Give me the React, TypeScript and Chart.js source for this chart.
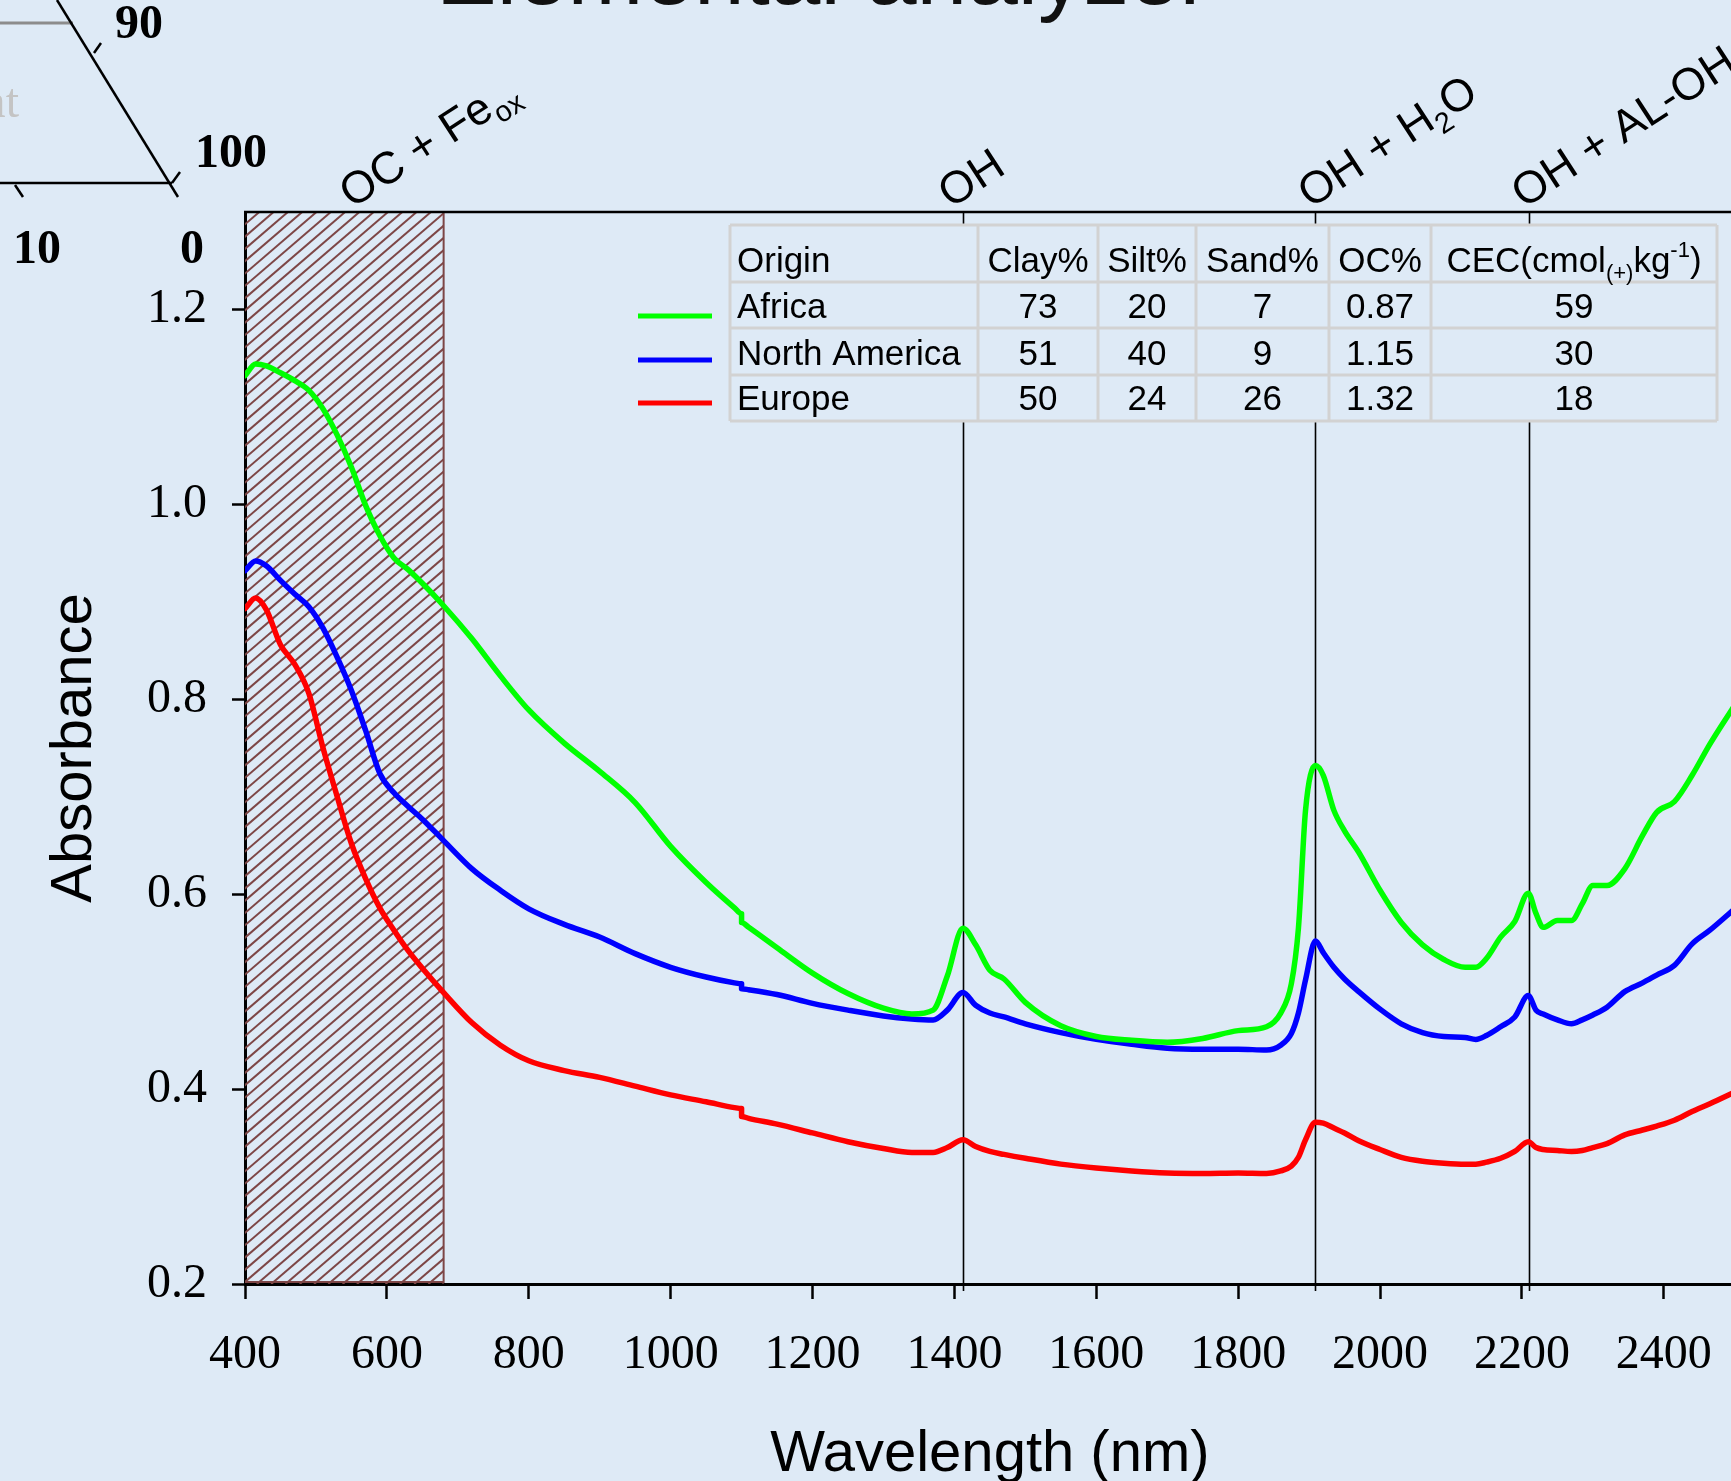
import React, { useEffect, useRef } from 'react';
import { Chart, registerables } from 'chart.js';

Chart.register(...registerables);

// ---------- data ----------
const WAVELENGTHS = [
  400, 415, 430, 450, 470, 490, 510, 530, 550, 570, 590, 610, 630, 650, 680, 720, 760, 800, 850, 900,
  950, 1000, 1050, 1090, 1100, 1100, 1110, 1150, 1200, 1250, 1300, 1340, 1370, 1390, 1412, 1430, 1450, 1470, 1500,
  1550, 1600, 1650, 1700, 1750, 1800, 1840, 1860, 1875, 1885, 1895, 1909, 1920, 1935, 1950, 1970, 2000,
  2030, 2060, 2090, 2120, 2135, 2150, 2170, 2190, 2209, 2220, 2230, 2250, 2270, 2285, 2300, 2320, 2345,
  2370, 2390, 2415, 2440, 2465, 2500,
];

const AFRICA = [
  1.132, 1.144, 1.142, 1.135, 1.127, 1.117, 1.098, 1.071, 1.038, 0.999, 0.968, 0.945, 0.933, 0.919, 0.896,
  0.862, 0.824, 0.789, 0.755, 0.726, 0.694, 0.649, 0.612, 0.586, 0.58, 0.571, 0.566, 0.545, 0.519, 0.498, 0.483, 0.477,
  0.481, 0.516, 0.565, 0.548, 0.522, 0.513, 0.489, 0.465, 0.454, 0.45, 0.448, 0.452, 0.46, 0.464, 0.478,
  0.508, 0.565, 0.686, 0.732, 0.722, 0.686, 0.665, 0.643, 0.604, 0.571, 0.548, 0.533, 0.525, 0.525, 0.534,
  0.556, 0.572, 0.601, 0.58, 0.566, 0.573, 0.573, 0.59, 0.609, 0.609, 0.626, 0.66, 0.684, 0.695, 0.722,
  0.754, 0.794,
];

const NORTH_AMERICA = [
  0.932, 0.942, 0.937, 0.922, 0.908, 0.895, 0.873, 0.843, 0.809, 0.768, 0.724, 0.704, 0.69, 0.677, 0.655,
  0.626, 0.604, 0.585, 0.569, 0.556, 0.539, 0.525, 0.515, 0.509, 0.508, 0.503, 0.502, 0.497, 0.488, 0.481, 0.475, 0.472,
  0.471, 0.481, 0.499, 0.486, 0.478, 0.474, 0.467, 0.458, 0.451, 0.446, 0.442, 0.441, 0.441, 0.44, 0.445,
  0.457, 0.478, 0.512, 0.552, 0.54, 0.525, 0.513, 0.5, 0.482, 0.467, 0.458, 0.454, 0.453, 0.451, 0.455,
  0.464, 0.474, 0.496, 0.481, 0.477, 0.471, 0.467, 0.471, 0.476, 0.484, 0.5, 0.509, 0.517, 0.527, 0.549,
  0.563, 0.585,
];

const EUROPE = [
  0.893, 0.904, 0.892, 0.856, 0.836, 0.806, 0.75, 0.7, 0.652, 0.616, 0.586, 0.563, 0.542, 0.524, 0.499,
  0.468, 0.445, 0.429, 0.419, 0.412, 0.403, 0.394, 0.387, 0.381, 0.38, 0.372, 0.37, 0.364, 0.355, 0.346, 0.339, 0.335,
  0.335, 0.34, 0.348, 0.341, 0.336, 0.333, 0.329, 0.323, 0.319, 0.316, 0.314, 0.3135, 0.314, 0.3135, 0.316,
  0.321, 0.33, 0.348, 0.366, 0.365, 0.36, 0.355, 0.347, 0.338, 0.33, 0.326, 0.324, 0.323, 0.323, 0.325,
  0.329, 0.336, 0.346, 0.34, 0.338, 0.337, 0.336, 0.337, 0.34, 0.344, 0.353, 0.358, 0.362, 0.368, 0.377,
  0.385, 0.397,
];

const X_TICKS = [400, 600, 800, 1000, 1200, 1400, 1600, 1800, 2000, 2200, 2400];
const Y_TICKS = [0.2, 0.4, 0.6, 0.8, 1.0, 1.2];
const BAND_LINES = [1412, 1908, 2210];
const HATCH_RANGE = [400, 680];

const ORIGINS = ['Africa', 'North America', 'Europe'];
const CLAY = ['73', '51', '50'];
const SILT = ['20', '40', '24'];
const SAND = ['7', '9', '26'];
const OC = ['0.87', '1.15', '1.32'];
const CEC = ['59', '30', '18'];
const SERIES_COLORS = ['#00ff00', '#0000ff', '#ff0000'];

// ---------- styles ----------
const BG = '#DEEAF6';
const HATCH = '#7d4646';
const SANS = '"Liberation Sans", Arial, sans-serif';
const SERIF = '"Liberation Serif", "Times New Roman", serif';

type Part = [string, number]; // 0 normal, 1 subscript, 2 superscript

function drawParts(ctx: CanvasRenderingContext2D, parts: Part[], x: number, y: number, size: number, small: number, align: 'left' | 'center') {
  const fontFor = (k: number) => `${k === 0 ? size : small}px ${SANS}`;
  let total = 0;
  parts.forEach(([t, k]) => { ctx.font = fontFor(k); total += ctx.measureText(t).width; });
  let cx = align === 'center' ? x - total / 2 : x;
  ctx.textAlign = 'left';
  parts.forEach(([t, k]) => {
    ctx.font = fontFor(k);
    const dy = k === 1 ? size * 0.22 : k === 2 ? -size * 0.42 : 0;
    ctx.fillText(t, cx, y + dy);
    cx += ctx.measureText(t).width;
  });
}

const decorPlugin = {
  id: 'decor',
  beforeDraw(chart: any) {
    const { ctx, width, height } = chart;
    ctx.save();
    ctx.fillStyle = BG;
    ctx.fillRect(0, 0, width, height);
    ctx.restore();
  },
  beforeDatasetsDraw(chart: any) {
    const { ctx, chartArea } = chart;
    const xs = chart.scales.x;
    const top = chartArea.top;
    const bot = chartArea.bottom;
    const H = bot - top;
    const hx0 = xs.getPixelForValue(HATCH_RANGE[0]);
    const hx1 = xs.getPixelForValue(HATCH_RANGE[1]);
    ctx.save();
    ctx.beginPath();
    ctx.rect(hx0, top, hx1 - hx0, H);
    ctx.clip();
    ctx.strokeStyle = HATCH;
    ctx.lineWidth = 2;
    const run = H / 0.86;
    for (let x = hx0 - run; x < hx1 + 5; x += 14.3) {
      ctx.beginPath();
      ctx.moveTo(x, bot);
      ctx.lineTo(x + run, top);
      ctx.stroke();
    }
    ctx.restore();
    ctx.save();
    ctx.strokeStyle = HATCH;
    ctx.lineWidth = 2;
    ctx.beginPath();
    ctx.moveTo(hx0, bot - 2);
    ctx.lineTo(hx1, bot - 2);
    ctx.lineTo(hx1, top);
    ctx.stroke();
    ctx.restore();
    // band lines
    ctx.save();
    ctx.strokeStyle = '#000';
    ctx.lineWidth = 1.6;
    BAND_LINES.forEach((w) => {
      const x = Math.round(xs.getPixelForValue(w)) + 0.5;
      ctx.beginPath();
      ctx.moveTo(x, top);
      ctx.lineTo(x, bot + 7);
      ctx.stroke();
    });
    ctx.restore();
  },
  afterDraw(chart: any) {
    const { ctx, chartArea, width } = chart;
    const xs = chart.scales.x;
    ctx.save();
    // top border
    ctx.strokeStyle = '#000';
    ctx.lineWidth = 2.5;
    ctx.beginPath();
    ctx.moveTo(chartArea.left - 1, chartArea.top);
    ctx.lineTo(width, chartArea.top);
    ctx.stroke();

    // table
    const cols = [730, 978, 1098, 1196, 1329, 1431, 1717];
    const rows = [225, 282, 328, 375, 421];
    ctx.fillStyle = BG;
    ctx.fillRect(cols[0], rows[0], cols[6] - cols[0], rows[4] - rows[0]);
    ctx.strokeStyle = '#d2d2d2';
    ctx.lineWidth = 3;
    rows.forEach((y) => { ctx.beginPath(); ctx.moveTo(cols[0], y); ctx.lineTo(cols[6], y); ctx.stroke(); });
    cols.forEach((x) => { ctx.beginPath(); ctx.moveTo(x, rows[0]); ctx.lineTo(x, rows[4]); ctx.stroke(); });
    const baselines = [272, 318, 365, 410];
    const center = (i: number) => (cols[i] + cols[i + 1]) / 2;
    ctx.fillStyle = '#000';
    ctx.textBaseline = 'alphabetic';
    ctx.font = `35px ${SANS}`;
    ctx.textAlign = 'left';
    ctx.fillText('Origin', 737, baselines[0]);
    ctx.textAlign = 'center';
    ['Clay%', 'Silt%', 'Sand%', 'OC%'].forEach((h, i) => ctx.fillText(h, center(i + 1), baselines[0]));
    drawParts(ctx, [['CEC(cmol', 0], ['(+)', 1], ['kg', 0], ['-1', 2], [')', 0]], center(5), baselines[0], 35, 22, 'center');
    ORIGINS.forEach((o, r) => {
      const y = baselines[r + 1];
      ctx.font = `35px ${SANS}`;
      ctx.textAlign = 'left';
      ctx.fillText(o, 737, y);
      ctx.textAlign = 'center';
      [CLAY[r], SILT[r], SAND[r], OC[r], CEC[r]].forEach((v, i) => ctx.fillText(v, center(i + 1), y));
    });
    // legend swatches
    ctx.lineWidth = 5;
    [316, 360, 403].forEach((y, i) => {
      ctx.strokeStyle = SERIES_COLORS[i];
      ctx.beginPath();
      ctx.moveTo(638, y);
      ctx.lineTo(712, y);
      ctx.stroke();
    });

    // rotated band annotations
    const annos: { wl: number; parts: Part[] }[] = [
      { wl: 551, parts: [['OC + Fe', 0], ['ox', 1]] },
      { wl: 1395, parts: [['OH', 0]] },
      { wl: 1902, parts: [['OH + H', 0], ['2', 1], ['O', 0]] },
      { wl: 2203, parts: [['OH + AL-OH', 0]] },
    ];
    ctx.fillStyle = '#000';
    annos.forEach((a) => {
      ctx.save();
      ctx.translate(xs.getPixelForValue(a.wl), chartArea.top - 3);
      ctx.rotate((-33 * Math.PI) / 180);
      drawParts(ctx, a.parts, 0, 0, 45, 29, 'left');
      ctx.restore();
    });

    // title (cut off at top)
    ctx.fillStyle = '#111';
    ctx.textAlign = 'left';
    ctx.font = `91px ${SANS}`;
    ctx.fillText('Elemental analyzer', 436, 4);

    // ternary diagram fragment
    ctx.strokeStyle = '#8c8c8c';
    ctx.lineWidth = 3;
    ctx.beginPath(); ctx.moveTo(0, 23); ctx.lineTo(73, 23); ctx.stroke();
    ctx.strokeStyle = '#000';
    ctx.lineWidth = 2.5;
    ctx.beginPath(); ctx.moveTo(57, 0); ctx.lineTo(178, 197); ctx.stroke();
    ctx.beginPath(); ctx.moveTo(0, 183); ctx.lineTo(172, 183); ctx.stroke();
    ctx.beginPath(); ctx.moveTo(94, 53); ctx.lineTo(101, 43); ctx.stroke();
    ctx.beginPath(); ctx.moveTo(172, 183); ctx.lineTo(180, 172); ctx.stroke();
    ctx.beginPath(); ctx.moveTo(15, 185); ctx.lineTo(23, 197); ctx.stroke();
    ctx.font = `bold 48px ${SERIF}`;
    ctx.fillStyle = '#000';
    ctx.textAlign = 'left';
    ctx.fillText('90', 115, 38);
    ctx.fillText('100', 195, 167);
    ctx.fillText('10', 13, 263);
    ctx.fillText('0', 180, 263);
    ctx.font = `48px ${SERIF}`;
    ctx.fillStyle = '#c4c4c4';
    ctx.textAlign = 'right';
    ctx.fillText('at', 19, 117);
    ctx.restore();
  },
};

export default function App() {
  const ref = useRef<HTMLCanvasElement | null>(null);
  useEffect(() => {
    if (!ref.current) return;
    const mk = (vals: number[]) => WAVELENGTHS.map((x, i) => ({ x, y: vals[i] }));
    const names = ['Africa', 'North America', 'Europe'];
    const chart = new Chart(ref.current, {
      type: 'line',
      data: {
        datasets: [AFRICA, NORTH_AMERICA, EUROPE].map((vals, i) => ({
          label: names[i],
          data: mk(vals),
          borderColor: SERIES_COLORS[i],
          backgroundColor: SERIES_COLORS[i],
          borderWidth: 5.5,
          borderCapStyle: 'round' as const,
          borderJoinStyle: 'round' as const,
          pointRadius: 0,
          fill: false,
          cubicInterpolationMode: 'monotone' as const,
        })),
      },
      options: {
        responsive: false,
        maintainAspectRatio: false,
        devicePixelRatio: 1,
        animation: false,
        layout: { padding: { top: 212, right: 5, left: 0, bottom: 0 } },
        plugins: { legend: { display: false }, tooltip: { enabled: false }, title: { display: false } },
        scales: {
          x: {
            type: 'linear',
            min: 400,
            max: 2500,
            afterBuildTicks: (s: any) => { s.ticks = X_TICKS.map((v) => ({ value: v })); },
            afterFit: (s: any) => { s.height = 197; },
            ticks: {
              autoSkip: false,
              maxRotation: 0,
              padding: 28,
              color: '#000',
              font: { family: SERIF, size: 48 },
              callback: (v: any) => String(v),
            },
            grid: { drawOnChartArea: false, drawTicks: true, tickLength: 15, tickColor: '#000', tickWidth: 2.5, color: '#000' },
            border: { display: true, color: '#000', width: 3 },
            title: {
              display: true,
              text: 'Wavelength (nm)',
              color: '#000',
              font: { family: SANS, size: 58, lineHeight: 0.9 },
              padding: { top: 0, bottom: 0 },
            },
          },
          y: {
            type: 'linear',
            min: 0.2,
            max: 1.3,
            afterBuildTicks: (s: any) => { s.ticks = Y_TICKS.map((v) => ({ value: v })); },
            afterFit: (s: any) => { s.width = 245; },
            ticks: {
              padding: 25,
              color: '#000',
              font: { family: SERIF, size: 48 },
              callback: (v: any) => Number(v).toFixed(1),
            },
            grid: { drawOnChartArea: false, drawTicks: true, tickLength: 13, tickColor: '#000', tickWidth: 2.5, color: '#000' },
            border: { display: true, color: '#000', width: 3 },
            title: {
              display: true,
              text: 'Absorbance',
              color: '#000',
              font: { family: SANS, size: 58, lineHeight: 1 },
              padding: { top: 46, bottom: 0 },
            },
          },
        },
      },
      plugins: [decorPlugin],
    } as any);
    return () => chart.destroy();
  }, []);
  return (
    <div style={{ position: 'fixed', left: 0, top: 0, width: 1731, height: 1481, overflow: 'hidden', background: BG }}>
      <canvas ref={ref} width={1740} height={1481} style={{ display: 'block', width: 1740, height: 1481 }} />
    </div>
  );
}
